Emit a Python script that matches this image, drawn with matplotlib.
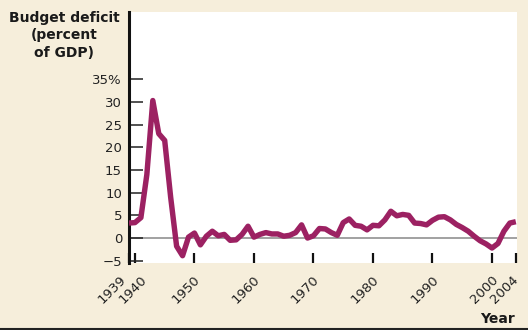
import matplotlib.pyplot as plt
import matplotlib.transforms as mtransforms
import numpy as np

years = np.arange(1939, 2005)
deficit = [3.3, 3.4, 4.5, 14.0, 30.3, 23.0, 21.5, 9.0, -1.8, -3.9,
           0.2, 1.1, -1.5, 0.4, 1.5, 0.5, 0.8, -0.5, -0.4, 0.8,
           2.6, 0.2, 0.8, 1.2, 0.9, 0.9, 0.4, 0.6, 1.2, 2.9,
           0.0, 0.5, 2.1, 2.0, 1.2, 0.6, 3.4, 4.2, 2.8, 2.6,
           1.8, 2.8, 2.7, 4.0, 5.9, 4.9, 5.2, 5.0, 3.3, 3.2,
           2.9, 3.9, 4.6, 4.7, 4.0, 3.0, 2.3, 1.5, 0.4, -0.6,
           -1.3, -2.2, -1.2, 1.5, 3.3, 3.6]

xtick_years = [1939, 1940, 1950, 1960, 1970, 1980, 1990, 2000, 2004]
ytick_vals = [-5, 0, 5, 10, 15, 20, 25, 30, 35]
ytick_labels = ["\u22125", "0", "5", "10", "15", "20", "25", "30", "35%"]

bg = "#f6eedb"
line_col = "#9c2162"

fig = plt.figure(figsize=(5.28, 3.3), dpi=100, facecolor=bg)
ax = fig.add_axes([129/528, 1 - 263/330, (517-129)/528, (263-12)/330])
ax.set_facecolor("white")

ax.axhline(0, color="#9a9a9a", lw=1.3, zorder=1)
ax.plot(years, deficit, color=line_col, lw=3.9, solid_joinstyle="round",
        solid_capstyle="butt", zorder=3)

ax.set_xlim(1939, 2004.2)
ax.set_ylim(-5.5, 49.8)

for s in ["top", "right", "bottom"]:
    ax.spines[s].set_visible(False)
ax.spines["left"].set_linewidth(2.2)
ax.spines["left"].set_color("#111111")

ax.set_yticks(ytick_vals)
ax.set_yticklabels(ytick_labels)
ax.tick_params(axis="y", direction="in", length=10, width=1.1, color="#222222",
               labelsize=9.5, labelcolor="#222222", pad=5)

ax.set_xticks(xtick_years)
ax.set_xticklabels([str(y) for y in xtick_years], rotation=45, ha="center", va="top")
ax.tick_params(axis="x", direction="in", length=7, width=1.6, color="#111111",
               labelsize=9.5, labelcolor="#222222", pad=7.5)

# nudge rotated year labels to the left like the original
extra = {1939: -9, 1940: 6, 2004: -3}
for yr, lab in zip(xtick_years, ax.get_xticklabels()):
    dx = (-8 + extra.get(yr, 0)) / 100
    lab.set_transform(lab.get_transform() +
                      mtransforms.ScaledTranslation(dx, 0, fig.dpi_scale_trans))

fig.text(64/528, 1 - 11/330, "Budget deficit\n(percent\nof GDP)", ha="center", va="top",
         fontsize=10, fontweight="bold", color="#1a1a1a", linespacing=1.3)
fig.text(497/528, 1 - 319/330, "Year", ha="center", va="center",
         fontsize=10, fontweight="bold", color="#1a1a1a")

fig.add_artist(plt.Line2D([0, 1], [1 - 329/330, 1 - 329/330], color="#222222", lw=1.5))

fig.savefig("out.png", dpi=100, facecolor=bg)
